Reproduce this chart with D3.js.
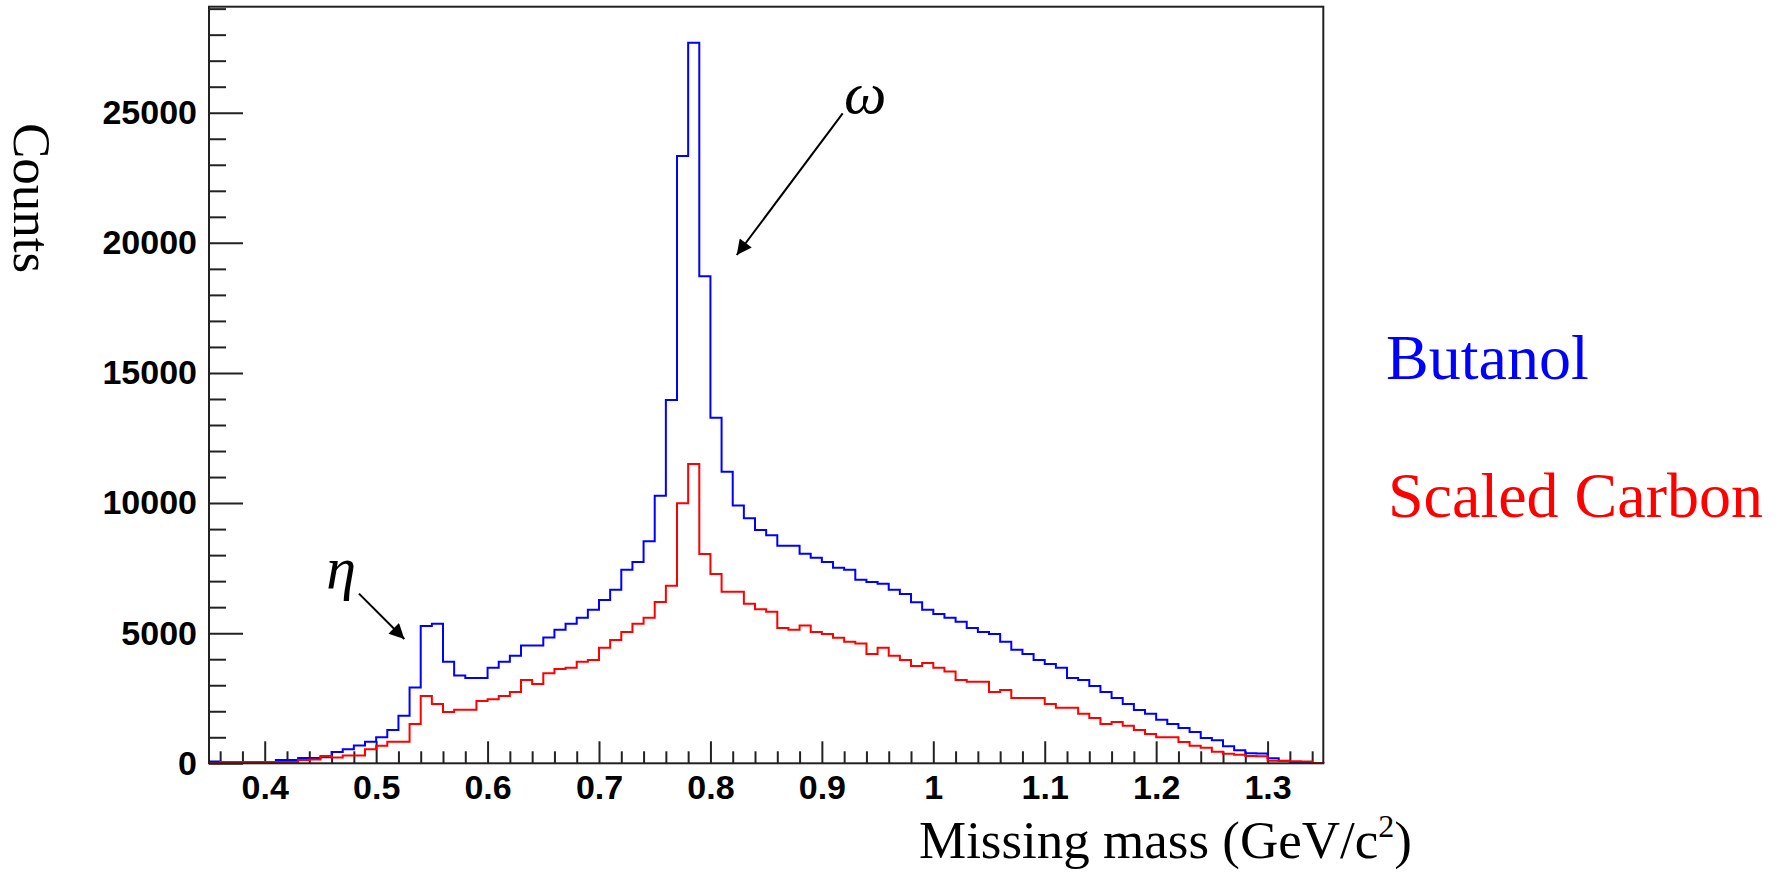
<!DOCTYPE html>
<html>
<head>
<meta charset="utf-8">
<script src="https://cdn.jsdelivr.net/npm/d3@7"></script>
<style>
  body { margin: 0; background: #fff; }
  .tick text { font-family: "Liberation Sans", Arial, sans-serif; font-weight: bold; font-size: 34px; fill: #000; }
  .serif { font-family: "Liberation Serif", "Times New Roman", serif; }
</style>
</head>
<body>
<svg id="chart" width="1780" height="872"></svg>
<script>
// Histogram binning (GeV/c^2)
const binStart = 0.35;
const binWidth = 0.01;

// Bin contents, one per 0.01 bin from 0.35 to 1.35
const butanol = [
  70, 30, 30, 40, 40, 50, 130, 130, 200, 200,
  230, 430, 540, 680, 830, 1000, 1280, 1830, 2910, 5280,
  5360, 3900, 3370, 3280, 3280, 3670, 3900, 4130, 4530, 4530,
  4830, 5130, 5360, 5590, 5900, 6280, 6670, 7440, 7740, 8530,
  10280, 13960, 23340, 27690, 18720, 13280, 11200, 9910, 9420, 8970,
  8760, 8360, 8360, 8050, 7900, 7740, 7510, 7440, 7050, 6970,
  6900, 6670, 6510, 6190, 5900, 5740, 5590, 5440, 5200, 5050,
  4970, 4670, 4360, 4200, 3970, 3820, 3670, 3280, 3200, 2970,
  2740, 2510, 2280, 2050, 1900, 1670, 1510, 1360, 1200, 970,
  890, 660, 500, 390, 380, 190, 100, 40, 30, 10
];
const carbon = [
  0, 50, 50, 50, 50, 50, 50, 50, 130, 150,
  280, 220, 295, 295, 540, 670, 830, 830, 1510, 2590,
  2280, 1970, 2060, 2060, 2390, 2460, 2590, 2740, 3200, 3050,
  3460, 3620, 3670, 3900, 3970, 4440, 4740, 5050, 5360, 5590,
  6200, 6820, 9990, 11500, 8040, 7270, 6590, 6590, 6130, 5920,
  5820, 5200, 5130, 5300, 5050, 4970, 4820, 4670, 4600, 4200,
  4440, 4130, 3970, 3740, 3850, 3670, 3530, 3200, 3130, 3130,
  2740, 2820, 2510, 2510, 2510, 2280, 2130, 2130, 1900, 1740,
  1510, 1590, 1440, 1280, 1130, 1000, 1000, 820, 670, 600,
  440, 370, 330, 280, 270, 100, 90, 80, 70, 10
];

// Axis ticks
const xMajorTicks = [0.4, 0.5, 0.6, 0.7, 0.8, 0.9, 1.0, 1.1, 1.2, 1.3];
const yMajorTicks = [0, 5000, 10000, 15000, 20000, 25000];

// Annotations in data coordinates: [label, textX, textY, fromX, fromY, toX, toY]
const annotations = [
  ["η", 0.4553, 6735, 0.4846, 6521, 0.5253, 4776],
  ["ω", 0.9199, 24989, 0.9187, 24977, 0.8236, 19532]
];

const svg = d3.select("#chart");
const plotLeft = 209, plotRight = 1323.3, plotTop = 6.7, plotBottom = 763.3;

const nBins = butanol.length;
const xMax = binStart + nBins * binWidth;
const yMax = 1.05 * d3.max(butanol);   // ROOT style headroom

const x = d3.scaleLinear().domain([binStart, xMax]).range([plotLeft, plotRight]);
const y = d3.scaleLinear().domain([0, yMax]).range([plotBottom, plotTop]);

// Minor ticks
const xMinorTicks = d3.range(0, 51).map(i => +(binStart + i * 0.02 + 0.01).toFixed(2))
  .filter(v => v > binStart && v < xMax && !xMajorTicks.some(m => Math.abs(m - v) < 1e-6));
const yMinorTicks = d3.range(1000, yMax, 1000).filter(v => v % 5000 !== 0);

// x axis (ticks pointing inward)
svg.append("g")
  .attr("transform", `translate(0,${plotBottom})`)
  .call(d3.axisBottom(x).tickValues(xMinorTicks).tickSize(-12).tickFormat(""))
  .call(g => g.select(".domain").remove());
svg.append("g")
  .attr("transform", `translate(0,${plotBottom})`)
  .call(d3.axisBottom(x).tickValues(xMajorTicks).tickSize(-22).tickPadding(12)
    .tickFormat(d => String(+d.toFixed(1))))
  .call(g => g.select(".domain").remove());

// y axis
svg.append("g")
  .attr("transform", `translate(${plotLeft},0)`)
  .call(d3.axisLeft(y).tickValues(yMinorTicks).tickSize(-17).tickFormat(""))
  .call(g => g.select(".domain").remove());
svg.append("g")
  .attr("transform", `translate(${plotLeft},0)`)
  .call(d3.axisLeft(y).tickValues(yMajorTicks).tickSize(-34).tickPadding(12).tickFormat(d3.format("d")))
  .call(g => g.select(".domain").remove());

svg.selectAll(".tick line").attr("stroke", "#222").attr("stroke-width", 2);

// Step outline of a histogram
function histPath(values) {
  const pts = [[binStart, 0]];
  values.forEach((v, i) => pts.push([binStart + i * binWidth, v]));
  pts.push([xMax, values[values.length - 1]]);
  pts.push([xMax, 0]);
  return d3.line().x(d => x(d[0])).y(d => y(d[1])).curve(d3.curveStepAfter)(pts);
}

svg.append("path")
  .attr("d", histPath(butanol))
  .attr("fill", "none").attr("stroke", "#0000ff").attr("stroke-width", 2);
svg.append("path")
  .attr("d", histPath(carbon))
  .attr("fill", "none").attr("stroke", "#ff0000").attr("stroke-width", 2);

// Frame
svg.append("rect")
  .attr("x", plotLeft).attr("y", plotTop)
  .attr("width", plotRight - plotLeft).attr("height", plotBottom - plotTop)
  .attr("fill", "none").attr("stroke", "#222").attr("stroke-width", 2);

// Arrows
svg.append("defs").append("marker")
  .attr("id", "head")
  .attr("viewBox", "0 0 10 10")
  .attr("refX", 10).attr("refY", 5)
  .attr("markerUnits", "userSpaceOnUse")
  .attr("markerWidth", 20).attr("markerHeight", 15)
  .attr("orient", "auto")
  .append("path").attr("d", "M0,0L10,5L0,10Z").attr("fill", "#000");

annotations.forEach(a => {
  svg.append("line")
    .attr("x1", x(a[3])).attr("y1", y(a[4]))
    .attr("x2", x(a[5])).attr("y2", y(a[6]))
    .attr("stroke", "#000").attr("stroke-width", 2)
    .attr("marker-end", "url(#head)");
  svg.append("text")
    .attr("class", "serif")
    .attr("x", x(a[1])).attr("y", y(a[2]))
    .attr("font-size", 60).attr("font-style", "italic")
    .text(a[0]);
});

// Axis titles
svg.append("text")
  .attr("class", "serif")
  .attr("transform", "translate(14,123) rotate(90)")
  .attr("font-size", 53)
  .text("Counts");

const xt = svg.append("text")
  .attr("class", "serif")
  .attr("x", 919).attr("y", 858)
  .attr("font-size", 53);
xt.append("tspan").text("Missing mass (GeV/c");
xt.append("tspan").attr("font-size", 32).attr("dy", -21).text("2");
xt.append("tspan").attr("dy", 21).text(")");

// Legend text
svg.append("text").attr("class", "serif")
  .attr("x", 1386).attr("y", 379).attr("font-size", 64).attr("fill", "#0000ff")
  .text("Butanol");
svg.append("text").attr("class", "serif")
  .attr("x", 1388).attr("y", 517).attr("font-size", 64).attr("fill", "#ff0000")
  .text("Scaled Carbon");
</script>
</body>
</html>
